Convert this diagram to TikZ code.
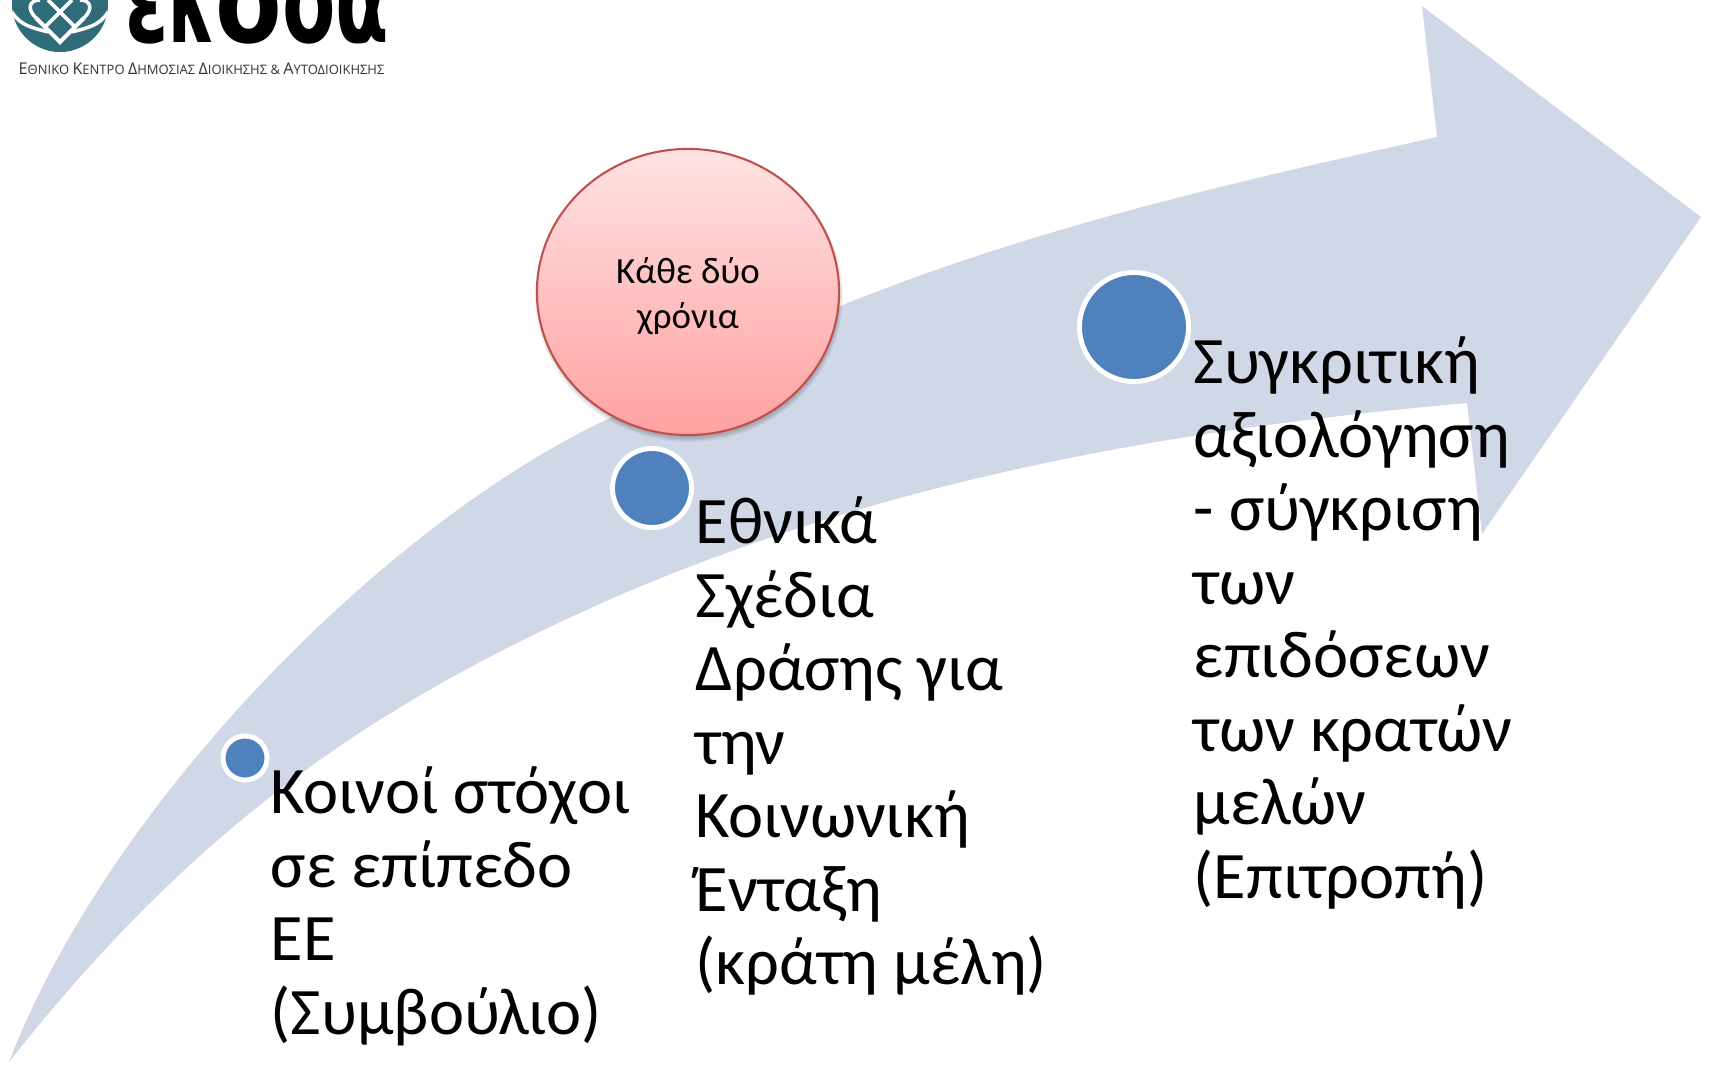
\documentclass[tikz,border=0pt]{standalone}
\usepackage{fontspec}
\setmainfont{Carlito}
\newfontfamily\logofont{DejaVu Sans}
\newfontfamily\captionfont{Open Sans}
\usepackage{graphicx}
\usepackage{tikz}
\usetikzlibrary{shapes.geometric}
\definecolor{arrowfill}{HTML}{D0D8E8}
\definecolor{dotblue}{HTML}{4F81BD}
\definecolor{ringred}{HTML}{C0504D}
\definecolor{logoteal}{HTML}{2F6B78}
\newcommand{\capfirst}[1]{{\fontsize{4.6}{5}\selectfont #1}}
\begin{document}
\begin{tikzpicture}[x=0.01cm,y=-0.01cm,
    milestone/.style ={circle, draw=white, fill=dotblue, line width=1.4pt, inner sep = 0pt},
    bigtext/.style ={anchor=north west, align=left, inner sep=0pt, font=\fontsize{18.9}{20.9}\selectfont},
    period/.style ={ellipse, draw=ringred, line width=0.6pt, top color=red!11, bottom color=red!37!white, inner sep=0pt,
       minimum width=3.02cm, minimum height=2.86cm}]
   \useasboundingbox (0,0) rectangle (1709,1066);

   \fill[arrowfill] (9,1062) .. controls (110,800) and (390,520) .. (610,418)
      .. controls (880,261) and (1167,197) .. (1437,137)
      -- (1422,6) -- (1701,217) -- (1482,534) -- (1467,403)
      .. controls (1187,428) and (900,475) .. (620,595)
      .. controls (380,700) and (200,820) .. (9,1062) -- cycle;

   \foreach \k in {0,...,4}
      \fill[black, opacity=0.045] (689,296) ellipse ({150+\k} and {142+\k});
   \node[period] (T) at (688,292) {};
   \node[align=center, inner sep=0pt, font=\fontsize{10.5}{12.8}\selectfont] (t) at (688,296) {Κάθε δύο\\χρόνια};

   \node[milestone, minimum size=0.44cm] (A) at (245,758) {};
   \node[milestone, minimum size=0.79cm] (B) at (652,488) {};
   \node[milestone, minimum size=1.09cm] (C) at (1134,327) {};

   \node[bigtext] (a) at (270,766) {Κοινοί στόχοι\\σε επίπεδο\\ΕΕ\\(Συμβούλιο)};
   \node[bigtext] (b) at (695,496) {Εθνικά\\Σχέδια\\Δράσης για\\την\\Κοινωνική\\Ένταξη\\(κράτη μέλη)};
   \node[bigtext] (c) at (1193,336) {Συγκριτική\\αξιολόγηση\\- σύγκριση\\των\\επιδόσεων\\των κρατών\\μελών\\(Επιτροπή)};

   \begin{scope}
      \clip (0,0) rectangle (420,90);
      \fill[logoteal] (60,4) circle (0.48cm);
      \draw[white, line width=1.2pt, line join=miter] (36,18) -- (60,42) -- (84,18);
      \draw[white, line width=1.1pt] (45,27) -- (72,0) (75,27) -- (48,0);
      \draw[white, line width=1pt] (36,18) .. controls (26,8) and (30,0) .. (40,0);
      \draw[white, line width=1pt] (84,18) .. controls (94,8) and (90,0) .. (80,0);
      \draw[white, line width=1pt] (12,12) .. controls (20,26) and (34,28) .. (48,32);
      \draw[white, line width=1pt] (108,12) .. controls (100,26) and (86,28) .. (72,32);
      \node[anchor=base west, inner sep=0pt, font=\logofont\bfseries\fontsize{34}{34}\selectfont, xscale=0.65, transform shape] (L) at (125,42) {ε\scalebox{0.85}[1]{κ}\scalebox{1.25}[1]{ο}δα};
   \end{scope}
   \node[anchor=base west, inner sep=0pt, text=black!80, font=\captionfont\fontsize{3.7}{5}\selectfont] (M) at (18,74)
      {\capfirst{Ε}ΘΝΙΚΟ \capfirst{Κ}ΕΝΤΡΟ \capfirst{Δ}ΗΜΟΣΙΑΣ \capfirst{Δ}ΙΟΙΚΗΣΗΣ \& \capfirst{Α}ΥΤΟΔΙΟΙΚΗΣΗΣ};
 \end{tikzpicture}
\end{document}
